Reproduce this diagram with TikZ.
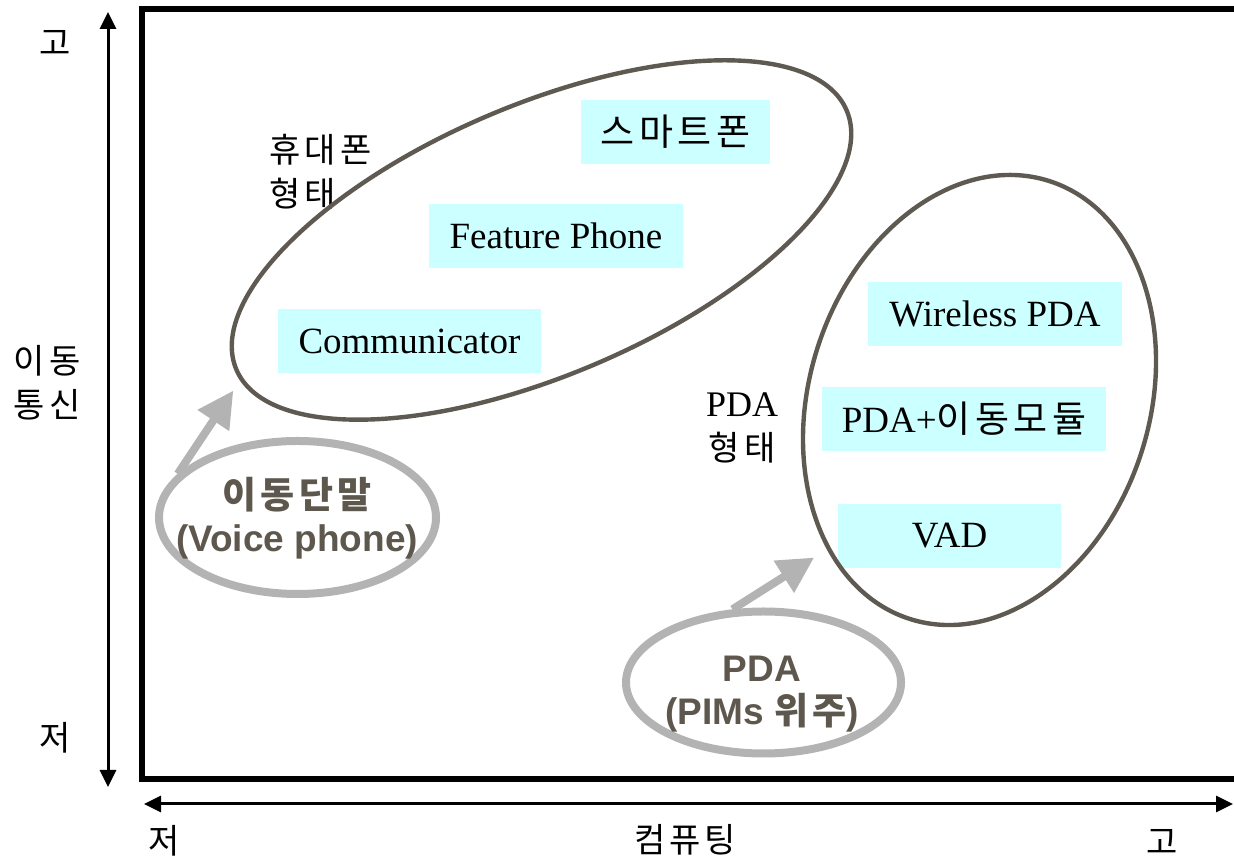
\documentclass[tikz,border=0pt]{standalone}
\usepackage{fontspec}
\usepackage{xcolor}
\usepackage{tikz}
\usetikzlibrary{arrows.meta,shapes.geometric}
\setmainfont{Liberation Serif}
\newfontfamily\krfont[LetterSpace=12]{Noto Sans CJK KR}
\newfontfamily\latinsans{Liberation Sans}
\definecolor{edgeBrown}{HTML}{5F5A51}
\definecolor{haloGray}{HTML}{B3B3B3}
\definecolor{boxCyan}{HTML}{CCFFFF}
\definecolor{captionGray}{HTML}{5E574E}

\begin{document}
\begin{tikzpicture}[x=0.5pt, y=0.5pt,
  item/.style={rectangle, fill=boxCyan, minimum height=32pt, inner sep=0pt, font=\fontsize{18.5}{22}\selectfont},
  tag/.style={inner sep=0pt, align=center, font=\krfont\fontsize{17}{22}\selectfont},
  group/.style={ellipse, draw=edgeBrown, line width=2.2pt, inner sep=0pt},
  halo/.style={ellipse, draw=haloGray, line width=4pt, inner sep=0pt},
  caption/.style={inner sep=0pt, align=center, text=captionGray, font=\krfont\bfseries\fontsize{18.5}{21.5}\selectfont},
  pointer/.style={-{Triangle[length=18pt,width=18pt]}, line width=4pt, draw=haloGray},
  axis/.style={{Triangle[length=8.5pt,width=8pt]}-{Triangle[length=8.5pt,width=8pt]}, line width=1.5pt}
]
\useasboundingbox (0,0) rectangle (1234,860);
% frame and axes
\draw[line width=3pt] (1234,850.5) -- (142,850.5) -- (142,81) -- (1234,81);
\coordinate (vlow) at (108,73);
\coordinate (vhigh) at (108,848);
\coordinate (hlow) at (144,56);
\coordinate (hhigh) at (1233,56);
\draw[axis] (vlow) -- (vhigh);
\draw[axis] (hlow) -- (hhigh);
\node[tag] (vhi) at (55,817) {고};
\node[tag] (vlo) at (55,122) {저};
\node[tag] (vname) at (47,477) {이동\\통신};
\node[tag] (hlo) at (164,19) {저};
\node[tag] (hname) at (685,20) {컴퓨팅};
\node[tag] (hhi) at (1162,18) {고};
% devices
\node[item, minimum width=94.5pt] (smart) at (675.5,728) {\krfont 스마트폰};
\node[item, minimum width=127pt] (feature) at (556,624) {Feature Phone};
\node[item, minimum width=131.5pt] (comm) at (409.5,518.5) {Communicator};
\node[item, minimum width=127pt] (wpda) at (995,546) {Wireless PDA};
\node[item, minimum width=142pt] (module) at (964,441) {PDA+{\krfont 이동모듈}};
\node[item, minimum width=111.5pt] (vad) at (949.5,324) {VAD};
\node[tag, anchor=west, align=left] (handset) at (269,688) {휴대폰\\형태};
\node[tag] (pdaform) at (742,432) {{\rmfamily\fontsize{18}{22}\selectfont PDA}\\형태};
% groups
\node[group, rotate=23, minimum width=331.5pt, minimum height=135.3pt] (phone) at (541.5,620) {};
\node[group, rotate=-17.6, minimum width=170.2pt, minimum height=229.8pt] (pda) at (979.5,460) {};
\node[halo, minimum width=138.5pt, minimum height=76.5pt] (voice) at (297.5,342.5) {};
\node[halo, minimum width=137.5pt, minimum height=71pt] (pim) at (763.5,177.5) {};
\node[caption] (voicetext) at (297,342) {이동단말\\{\latinsans (Voice phone)}};
\node[caption] (pimtext) at (762,166) {{\latinsans PDA}\\{\latinsans (PIMs }위주{\latinsans )}};
\draw[pointer, shorten >=6pt] (voice.160) -- (phone.182);
\draw[pointer, shorten >=7.5pt] (pim.113) -- (pda.242);
\end{tikzpicture}
\end{document}
